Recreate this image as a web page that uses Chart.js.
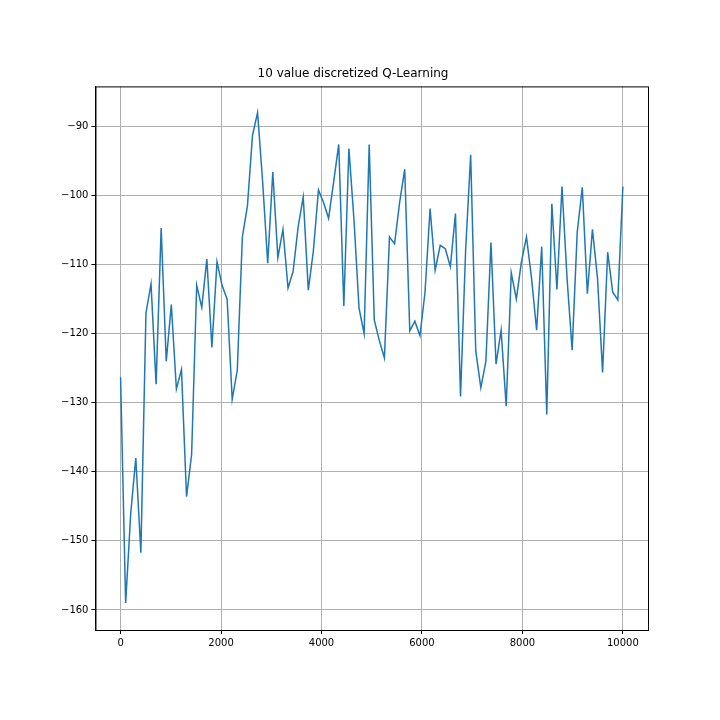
<!DOCTYPE html>
<html>
<head>
<meta charset="utf-8">
<script src="https://cdn.jsdelivr.net/npm/chart.js@4"></script>
<style>
    body { margin: 0; background: #fff; }
    #wrap { position: absolute; left: 0; top: 0; width: 720px; height: 720px; }
</style>
</head>
<body>
<div id="wrap"><canvas id="chart"></canvas></div>
<script>
// Rewards per evaluation episode (100 points spread over 0..10000)
const rewards = [
    -126.3, -159, -146, -138, -151.7, -117, -112.8, -127.3, -104.7, -124,
    -115.8, -128, -125.2, -143.6, -137.5, -113, -116.2, -109.2, -122, -109.6,
    -113, -115, -129.5, -125.3, -106, -101.5, -91.3, -88, -98, -109.8,
    -96.6, -109, -104.9, -113.4, -111, -104.5, -100.2, -113.7, -108, -99.2,
    -101, -103.3, -98, -92.6, -116, -93.2, -103.5, -116.3, -120, -92.6,
    -118, -121, -123.5, -106, -107, -101, -96.2, -119.6, -118.2, -120.3,
    -114, -101.9, -110.8, -107.2, -107.7, -110.3, -102.6, -129.1, -108, -94.1,
    -122.5, -127.8, -124, -106.8, -124.4, -119.5, -130.5, -111.2, -115, -109.6,
    -106, -112, -119.5, -107.4, -131.7, -101.2, -113.6, -98.7, -112, -122.4,
    -105.3, -98.8, -114.2, -104.9, -112, -125.6, -108.2, -114, -115.1, -98.7
];
const episodes = rewards.map((_, i) => i * 10000 / (rewards.length - 1));
const xTicks = [0, 2000, 4000, 6000, 8000, 10000];
const yTicks = [-160, -150, -140, -130, -120, -110, -100, -90];

// Full frame round the plot area, like matplotlib
const frame = {
    id: 'frame',
    afterDraw(chart) {
        const a = chart.chartArea, c = chart.ctx;
        c.save();
        c.strokeStyle = '#000';
        c.lineWidth = 1;
        c.strokeRect(a.left + 0.5, a.top + 0.5, a.right - a.left, a.bottom - a.top);
        c.restore();
    }
};

const fmt = v => String(v).replace('-', '\u2212');

document.addEventListener('DOMContentLoaded', function () {
    const ctx = document.getElementById('chart');
    new Chart(ctx, {
        type: 'line',
        data: {
            datasets: [{
                data: episodes.map((x, i) => ({ x: x, y: rewards[i] })),
                borderColor: '#1f77b4',
                borderWidth: 1.5,
                pointRadius: 0,
                tension: 0
            }]
        },
        options: {
            responsive: true,
            maintainAspectRatio: false,
            animation: false,
            layout: { padding: { left: 58, right: 72, top: 67, bottom: 68 } },
            plugins: {
                legend: { display: false },
                tooltip: { enabled: false },
                title: {
                    display: true,
                    text: '10 value discretized Q-Learning',
                    color: '#000',
                    font: { family: 'DejaVu Sans', size: 12, weight: 'normal' },
                    padding: { top: 0, bottom: 5 }
                }
            },
            scales: {
                x: {
                    type: 'linear',
                    min: -500, max: 10500,
                    afterBuildTicks: axis => { axis.ticks = xTicks.map(v => ({ value: v })); },
                    ticks: { color: '#000', font: { family: 'DejaVu Sans', size: 10 }, maxRotation: 0, callback: fmt },
                    grid: { color: '#b0b0b0', tickColor: '#000', tickLength: 4 },
                    border: { color: '#000' }
                },
                y: {
                    min: -162.9, max: -84.2,
                    afterBuildTicks: axis => { axis.ticks = yTicks.map(v => ({ value: v })); },
                    ticks: { color: '#000', font: { family: 'DejaVu Sans', size: 10 }, callback: fmt },
                    grid: { color: '#b0b0b0', tickColor: '#000', tickLength: 4 },
                    border: { color: '#000' }
                }
            }
        },
        plugins: [frame]
    });
});
</script>
</body>
</html>
